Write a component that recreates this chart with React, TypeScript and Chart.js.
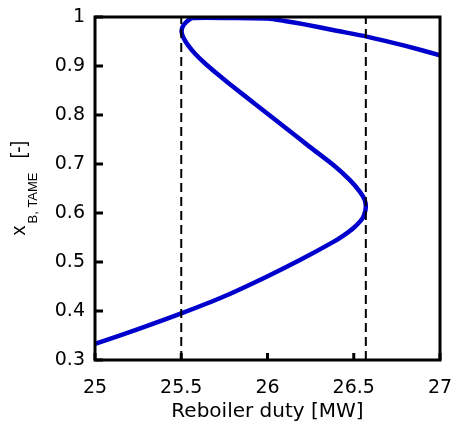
import React, { useEffect, useRef } from "react";
import { Chart, registerables } from "chart.js";

Chart.register(...registerables);

// Parametric S-curve: reboiler duty [MW] vs bottoms TAME fraction
const duty = [
  25.0, 25.25, 25.5, 25.75, 25.995, 26.188, 26.382, 26.444, 26.497, 26.542,
  26.56, 26.57, 26.563, 26.536, 26.478, 26.382, 26.245, 26.082, 25.93, 25.81,
  25.722, 25.648, 25.58, 25.538, 25.512, 25.502, 25.508, 25.53, 25.565, 25.8,
  26.0, 26.1, 26.2, 26.4, 26.575, 26.8, 27.0,
];
const xB = [
  0.333, 0.363, 0.395, 0.43, 0.47, 0.504, 0.541, 0.555, 0.569, 0.585,
  0.596, 0.612, 0.627, 0.643, 0.667, 0.698, 0.735, 0.78, 0.822, 0.855,
  0.88, 0.902, 0.925, 0.943, 0.958, 0.97, 0.98, 0.99, 0.998, 0.998,
  0.997, 0.992, 0.986, 0.972, 0.96, 0.941, 0.922,
];
// Turning-point markers (dashed verticals)
const limitDuties = [25.5, 26.57];

const xTicks = [25, 25.5, 26, 26.5, 27];
const xTickLabels = ["25", "25.5", "26", "26.5", "27"];
const yTicks = [0.3, 0.4, 0.5, 0.6, 0.7, 0.8, 0.9, 1.0];
const yTickLabels = ["0.3", "0.4", "0.5", "0.6", "0.7", "0.8", "0.9", "1"];

const xTitle = "Reboiler duty [MW]";
const yTitleMain = "x";
const yTitleSub = "B, TAME";
const yTitleUnit = "[-]";

const boxPlugin = {
  id: "boxAndTicks",
  afterDatasetsDraw(chart: any) {
    const { ctx, chartArea: a, scales } = chart;
    ctx.save();
    ctx.strokeStyle = "#000";
    ctx.lineWidth = 3;
    ctx.lineCap = "butt";
    ctx.beginPath();
    yTicks.forEach((v) => {
      const y = scales.y.getPixelForValue(v);
      ctx.moveTo(a.left, y);
      ctx.lineTo(a.left + 8, y);
    });
    xTicks.forEach((v) => {
      const x = scales.x.getPixelForValue(v);
      ctx.moveTo(x, a.bottom);
      ctx.lineTo(x, a.bottom - 7);
    });
    ctx.stroke();
    ctx.strokeRect(a.left, a.top, a.right - a.left, a.bottom - a.top);
    ctx.restore();
  },
  afterDraw(chart: any) {
    const { ctx, chartArea: a } = chart;
    const cy = (a.top + a.bottom) / 2;
    ctx.save();
    ctx.fillStyle = "#000";
    ctx.translate(25, cy + 47);
    ctx.rotate(-Math.PI / 2);
    ctx.textBaseline = "alphabetic";
    ctx.textAlign = "left";
    ctx.font = '20px "Liberation Sans", Arial, sans-serif';
    ctx.fillText(yTitleMain, 0, 0);
    ctx.font = '13px "Liberation Sans", Arial, sans-serif';
    ctx.fillText(yTitleSub, 12, 12);
    ctx.font = '20px "Liberation Sans", Arial, sans-serif';
    ctx.fillText(yTitleUnit, 77, 0);
    ctx.restore();
  },
};

export default function App() {
  const ref = useRef<HTMLCanvasElement | null>(null);
  useEffect(() => {
    document.body.style.margin = "0";
    const canvas = ref.current;
    if (!canvas) return;
    const tickFont = { family: '"DejaVu Sans", sans-serif', size: 19 };
    const chart = new Chart(canvas, {
      type: "scatter",
      data: {
        datasets: [
          ...limitDuties.map((d) => ({
            data: [
              { x: d, y: yTicks[0] },
              { x: d, y: yTicks[yTicks.length - 1] },
            ],
            showLine: true,
            borderColor: "#000",
            borderWidth: 2,
            borderDash: [9, 5],
            pointRadius: 0,
            order: 0,
          })),
          {
            data: duty.map((d, i) => ({ x: d, y: xB[i] })),
            showLine: true,
            borderColor: "#0000cc",
            borderWidth: 4.5,
            tension: 0.2,
            pointRadius: 0,
            order: 1,
          },
        ],
      },
      options: {
        responsive: false,
        animation: false,
        events: [],
        layout: { padding: { top: 17, right: 13, left: 0, bottom: 0 } },
        plugins: { legend: { display: false }, tooltip: { enabled: false } },
        scales: {
          x: {
            type: "linear",
            min: 25,
            max: 27,
            border: { display: false },
            grid: { display: false, drawTicks: false },
            afterBuildTicks: (s: any) => {
              s.ticks = xTicks.map((v) => ({ value: v }));
            },
            afterFit: (s: any) => {
              s.height = 68;
              s.paddingLeft = 0;
              s.paddingRight = 0;
            },
            ticks: {
              padding: 17,
              color: "#000",
              font: tickFont,
              maxRotation: 0,
              autoSkip: false,
              callback: (v: any) => xTickLabels[xTicks.indexOf(Number(v))] ?? "",
            },
            title: {
              display: true,
              text: xTitle,
              color: "#000",
              font: { family: '"DejaVu Sans", sans-serif', size: 20 },
              padding: { top: 0, bottom: 4 },
            },
          },
          y: {
            type: "linear",
            min: 0.3,
            max: 1,
            border: { display: false },
            grid: { display: false, drawTicks: false },
            afterBuildTicks: (s: any) => {
              s.ticks = yTicks.map((v) => ({ value: v }));
            },
            afterFit: (s: any) => {
              s.width = 95;
              s.paddingTop = 0;
              s.paddingBottom = 0;
            },
            ticks: {
              padding: 10,
              color: "#000",
              font: tickFont,
              autoSkip: false,
              callback: (v: any) => {
                const i = yTicks.findIndex((t) => Math.abs(t - Number(v)) < 1e-6);
                return i >= 0 ? yTickLabels[i] : "";
              },
            },
          },
        },
      },
      plugins: [boxPlugin],
    });
    return () => chart.destroy();
  }, []);
  return (
    <canvas ref={ref} width={453} height={428} style={{ display: "block", width: 453, height: 428 }} />
  );
}
